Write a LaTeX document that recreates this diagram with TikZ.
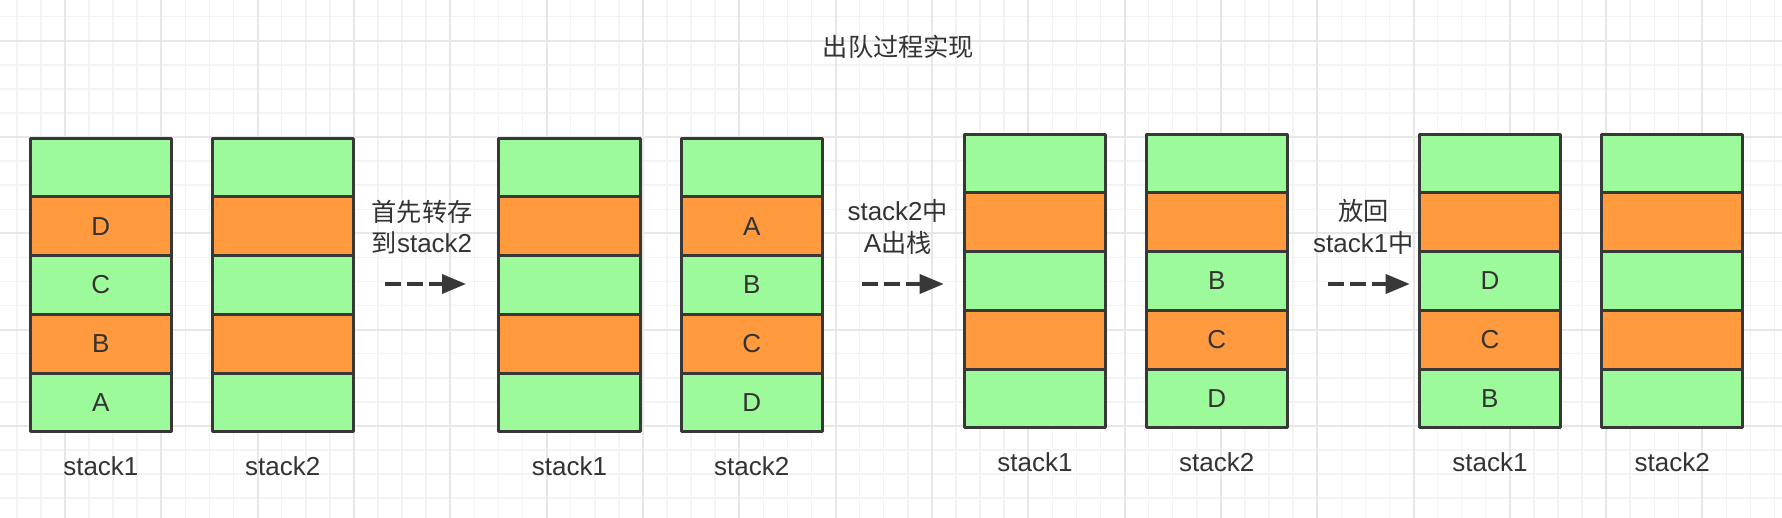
\documentclass[tikz,border=0pt]{standalone}
\usepackage{fontspec}
\setmainfont{Liberation Sans}
\newfontfamily\cjk[Scale=0.97]{Noto Sans CJK SC}
\usetikzlibrary{arrows.meta}
\definecolor{gfill}{HTML}{9CFA9A}
\definecolor{ofill}{HTML}{FF9A3E}
\definecolor{linec}{HTML}{383838}
\definecolor{txt}{HTML}{333333}
\definecolor{gridminor}{HTML}{F3F3F3}
\definecolor{gridmajor}{HTML}{E7E7E7}
\tikzset{
  cellbase/.style={draw=linec, line width=3pt, line join=round, minimum width=141.5pt, minimum height=58.7pt, inner sep=0pt, text=txt, font=\fontsize{26}{30}\selectfont},
  gcell/.style={cellbase, fill=gfill},
  ocell/.style={cellbase, fill=ofill},
  stacklab/.style={inner sep=0pt, text=txt, font=\fontsize{26}{30}\selectfont},
  steplab/.style={inner sep=0pt, text=txt, align=center, font=\fontsize{26}{31.6}\selectfont},
  titlelab/.style={inner sep=0pt, text=txt, font=\cjk\fontsize{26}{30}\selectfont},
  movearrow/.style={draw=linec, line width=3.5pt, dash pattern=on 16pt off 6pt, -{Triangle[length=24pt,width=19pt]}},
}
\newcommand\mystack[8]{%
  \node[gcell] (#1r1) at (#2,#3+29.35) {#4};
  \node[ocell] (#1r2) at (#2,#3+88.05) {#5};
  \node[gcell] (#1r3) at (#2,#3+146.75) {#6};
  \node[ocell] (#1r4) at (#2,#3+205.45) {#7};
  \node[gcell] (#1r5) at (#2,#3+264.15) {#8};
}
\begin{document}
\begin{tikzpicture}[x=1pt,y=-1pt]
\useasboundingbox (0,0) rectangle (1782,518);
\fill[white] (0,0) rectangle (1782,518);
\begin{scope}
\clip (0,0) rectangle (1782,518);
\foreach \k in {-2,...,71} {
  \draw[gridminor, line width=1.5pt] ({65+24.08*\k},0) -- ({65+24.08*\k},518);
}
\foreach \k in {-1,...,20} {
  \draw[gridminor, line width=1.5pt] (0,{40.7+24.08*\k}) -- (1782,{40.7+24.08*\k});
}
\foreach \j in {-1,...,18} {
  \draw[gridmajor, line width=2pt] ({65+96.32*\j},0) -- ({65+96.32*\j},518);
}
\foreach \j in {0,...,5} {
  \draw[gridmajor, line width=2pt] (0,{40.7+96.32*\j}) -- (1782,{40.7+96.32*\j});
}
\end{scope}

% title
\node[titlelab] (title) at (898.5,46.7) {出队过程实现};

% panel 1
\mystack{pa}{100.85}{138.2}{}{D}{C}{B}{A}
\mystack{pb}{282.75}{138.2}{}{}{}{}{}
\node[stacklab] (pal) at (100.85,466.7) {stack1};
\node[stacklab] (pbl) at (282.75,466.7) {stack2};

% panel 2
\mystack{qa}{569.5}{138.2}{}{}{}{}{}
\mystack{qb}{751.75}{138.2}{}{A}{B}{C}{D}
\node[stacklab] (qal) at (569.5,466.7) {stack1};
\node[stacklab] (qbl) at (751.75,466.7) {stack2};

% panel 3
\mystack{ra}{1034.95}{134.2}{}{}{}{}{}
\mystack{rb}{1216.8}{134.2}{}{}{B}{C}{D}
\node[stacklab] (ral) at (1034.95,462.7) {stack1};
\node[stacklab] (rbl) at (1216.8,462.7) {stack2};

% panel 4
\mystack{sa}{1489.9}{134.2}{}{}{D}{C}{B}
\mystack{sb}{1672.15}{134.2}{}{}{}{}{}
\node[stacklab] (sal) at (1489.9,462.7) {stack1};
\node[stacklab] (sbl) at (1672.15,462.7) {stack2};

% step texts
\node[steplab] (t1) at (422,227) {{\cjk 首先转存}\\{\cjk 到}stack2};
\node[steplab] (t2) at (897.7,227) {stack2{\cjk 中}\\A{\cjk 出栈}};
\node[steplab] (t3) at (1363.3,227) {{\cjk 放回}\\stack1{\cjk 中}};

% arrows
\coordinate (a1s) at (384.6,284);
\coordinate (a1e) at (466,284);
\coordinate (a2s) at (862,284);
\coordinate (a2e) at (943.7,284);
\coordinate (a3s) at (1328,284);
\coordinate (a3e) at (1409.7,284);
\draw[movearrow] (a1s) -- (a1e);
\draw[movearrow] (a2s) -- (a2e);
\draw[movearrow] (a3s) -- (a3e);
\end{tikzpicture}
\end{document}
